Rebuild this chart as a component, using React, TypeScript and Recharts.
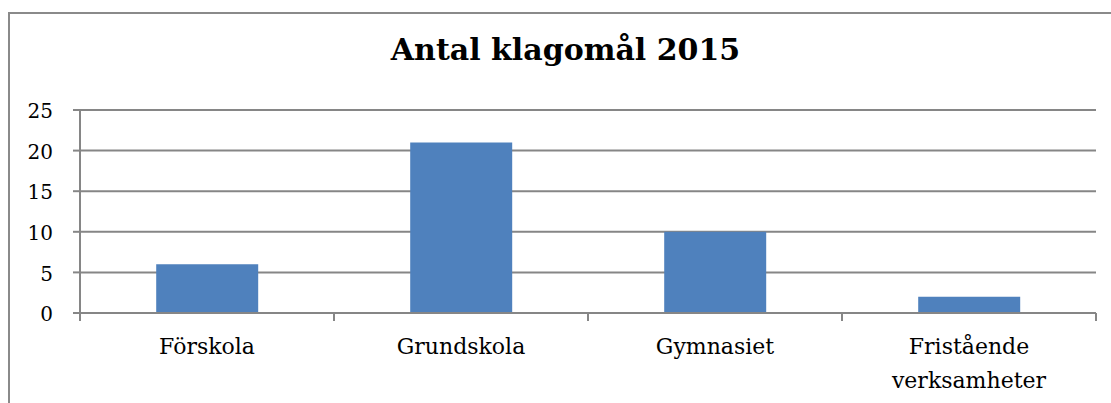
import React from "react";
import { BarChart, Bar, XAxis, YAxis, CartesianGrid } from "recharts";

const categories = ["Förskola", "Grundskola", "Gymnasiet", "Fristående verksamheter"];
const complaints = [6, 21, 10, 2];
const yTicks = [0, 5, 10, 15, 20, 25];
const title = "Antal klagomål 2015";

const data = categories.map((name, i) => ({ name, value: complaints[i] }));

const FONT = "'DejaVu Serif', serif";
const GRID = "#868686";
const LABEL_SIZE = 22;
const Y_LABEL_SIZE = 20;

function wrapLabel(label: string, maxWidth: number): string[] {
  const words = label.split(" ");
  const lines: string[] = [];
  let current = "";
  const est = (s: string) => s.length * LABEL_SIZE * 0.58;
  for (const w of words) {
    const candidate = current ? current + " " + w : w;
    if (current && est(candidate) > maxWidth) {
      lines.push(current);
      current = w;
    } else {
      current = candidate;
    }
  }
  if (current) lines.push(current);
  return lines;
}

const CategoryTick = (props: any) => {
  const { x, y, payload, index, visibleTicksCount } = props;
  const half = payload.offset || 0;
  const axisY = y - 10;
  const isLast = index === (visibleTicksCount ?? categories.length) - 1;
  const lines = wrapLabel(String(payload.value), half * 2 - 40);
  return (
    <g>
      <line x1={x - half} x2={x - half} y1={axisY} y2={axisY + 8} stroke={GRID} strokeWidth={2} />
      {isLast && (
        <line x1={x + half} x2={x + half} y1={axisY} y2={axisY + 8} stroke={GRID} strokeWidth={2} />
      )}
      <text
        x={x}
        y={axisY + 41}
        textAnchor="middle"
        fill="#000"
        fontFamily={FONT}
        fontSize={LABEL_SIZE}
      >
        {lines.map((ln, i) => (
          <tspan key={i} x={x} dy={i === 0 ? 0 : 34}>
            {ln}
          </tspan>
        ))}
      </text>
    </g>
  );
};

export default function App() {
  return (
    <div
      style={{
        position: "absolute",
        left: 0,
        top: 0,
        width: 1111,
        height: 403,
        overflow: "hidden",
        background: "#fff",
      }}
    >
      <div
        style={{
          position: "absolute",
          left: 8,
          top: 12,
          width: 1200,
          height: 500,
          border: "2px solid #8a8a8a",
          boxSizing: "border-box",
        }}
      />
      <div
        style={{
          position: "absolute",
          left: 0,
          width: 1131,
          top: 32,
          textAlign: "center",
          fontFamily: FONT,
          fontWeight: "bold",
          fontSize: 30,
          lineHeight: "36px",
          color: "#000",
        }}
      >
        {title}
      </div>
      <div style={{ position: "absolute", left: 0, top: 0 }}>
        <BarChart
          width={1111}
          height={403}
          data={data}
          margin={{ top: 110, right: 15, bottom: 30, left: 20 }}
          barCategoryGap="30%"
        >
          <CartesianGrid vertical={false} stroke={GRID} strokeWidth={2} />
          <XAxis
            dataKey="name"
            height={60}
            axisLine={{ stroke: GRID, strokeWidth: 2 }}
            tickLine={false}
            tickSize={8}
            tickMargin={2}
            interval={0}
            tick={<CategoryTick />}
          />
          <YAxis
            width={60}
            domain={[0, 25]}
            ticks={yTicks}
            interval={0}
            axisLine={{ stroke: GRID, strokeWidth: 2 }}
            tickLine={{ stroke: GRID, strokeWidth: 2 }}
            tickSize={7}
            tickMargin={20}
            tick={{ fill: "#000", fontFamily: FONT, fontSize: Y_LABEL_SIZE, dy: 1 }}
          />
          <Bar dataKey="value" fill="#4F81BD" isAnimationActive={false} />
        </BarChart>
      </div>
    </div>
  );
}
